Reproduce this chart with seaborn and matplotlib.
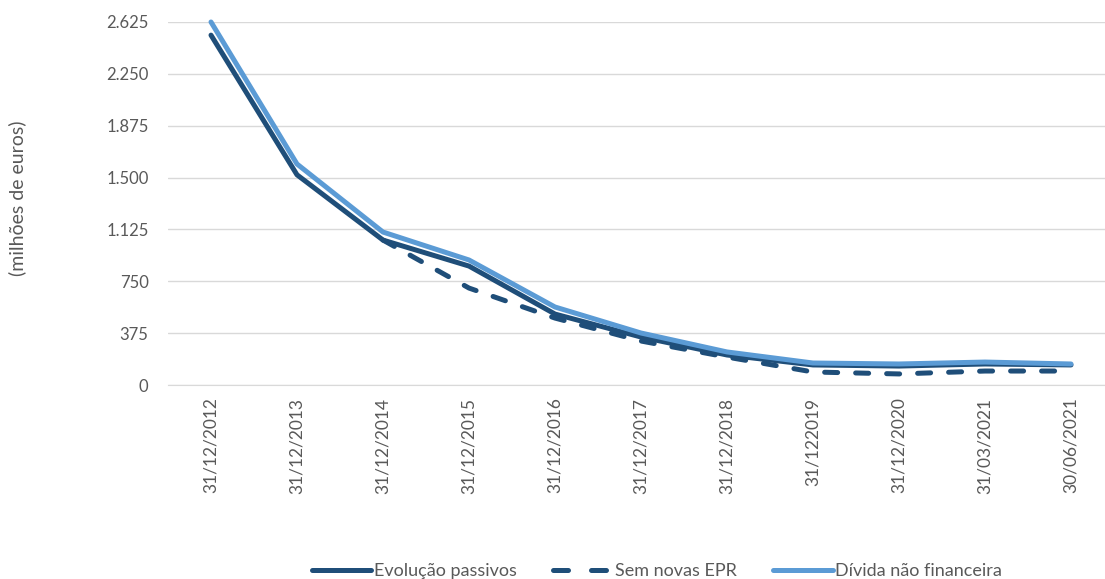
import numpy as np
import pandas as pd
import matplotlib
matplotlib.use("Agg")
import matplotlib.pyplot as plt
import seaborn as sns

# data
categories = ["31/12/2012", "31/12/2013", "31/12/2014", "31/12/2015", "31/12/2016",
              "31/12/2017", "31/12/2018", "31/122019", "31/12/2020", "31/03/2021",
              "30/06/2021"]
evolucao_passivos = [2530, 1520, 1048, 860, 513, 347, 217, 145, 137, 152, 145]
sem_novas_epr = [np.nan, np.nan, 1048, 701, 484, 318, 202, 94, 80, 101, 101]
divida_nao_financeira = [2625, 1598, 1106, 904, 564, 376, 239, 159, 152, 166, 152]
y_ticks = [0, 375, 750, 1125, 1500, 1875, 2250, 2625]
y_tick_labels = ["0", "375", "750", "1.125", "1.500", "1.875", "2.250", "2.625"]

dark = "#1F4E79"
light = "#5B9BD5"
grey_text = "#595959"
dash_pat = (2.6, 3.6)

sns.set_style("white")
plt.rcParams["font.family"] = ["Lato", "DejaVu Sans"]

df = pd.DataFrame({
    "pos": np.arange(len(categories)),
    "Evolução passivos": evolucao_passivos,
    "Sem novas EPR": sem_novas_epr,
    "Dívida não financeira": divida_nao_financeira,
})

fig = plt.figure(figsize=(11.05, 5.79), dpi=100)
ax = fig.add_axes([168 / 1105, 1 - 385 / 579, 1 - 168 / 1105, (385 - 22) / 579])

lw = 3.6
sns.lineplot(data=df, x="pos", y="Evolução passivos", ax=ax, color=dark, lw=lw,
             label="Evolução passivos", sort=False, clip_on=False)
sns.lineplot(data=df, x="pos", y="Sem novas EPR", ax=ax, color=dark, lw=lw,
             label="Sem novas EPR", sort=False, clip_on=False)
ax.lines[-1].set_dashes(dash_pat)
ax.lines[-1].set_dash_capstyle("round")
sns.lineplot(data=df, x="pos", y="Dívida não financeira", ax=ax, color=light, lw=lw,
             label="Dívida não financeira", sort=False, clip_on=False)

ax.set_xlim(-0.5, -0.5 + 937 / 86)
ax.set_ylim(0, 2625)
ax.set_yticks(y_ticks)
ax.set_yticklabels(y_tick_labels, fontsize=12, color=grey_text)
ax.set_xticks(df["pos"])
ax.set_xticklabels(categories, rotation=90, fontsize=12.5, color=grey_text)
ax.tick_params(axis="y", length=0, pad=14)
ax.tick_params(axis="x", length=0, pad=9)
ax.yaxis.grid(True, color="#D9D9D9", lw=1)
ax.set_axisbelow(True)
for s in ["top", "right", "left"]:
    ax.spines[s].set_visible(False)
ax.spines["bottom"].set_color("#D9D9D9")
ax.set_xlabel("")
ax.set_ylabel("")
fig.text(17 / 1105, 1 - 198 / 579, "(milhões de euros)", rotation=90,
         ha="center", va="center", fontsize=14, color=grey_text)

leg = ax.legend(loc="center", bbox_to_anchor=((657 - 168) / 937, (385 - 571) / 363),
                ncol=3, frameon=False, fontsize=13, handlelength=3.3,
                columnspacing=2.0, handletextpad=0.15)
for t in leg.get_texts():
    t.set_color(grey_text)
leg.get_lines()[1].set_dashes((3.0, 4.6))
leg.get_lines()[1].set_dash_capstyle("round")

fig.savefig("out.png", dpi=100)
